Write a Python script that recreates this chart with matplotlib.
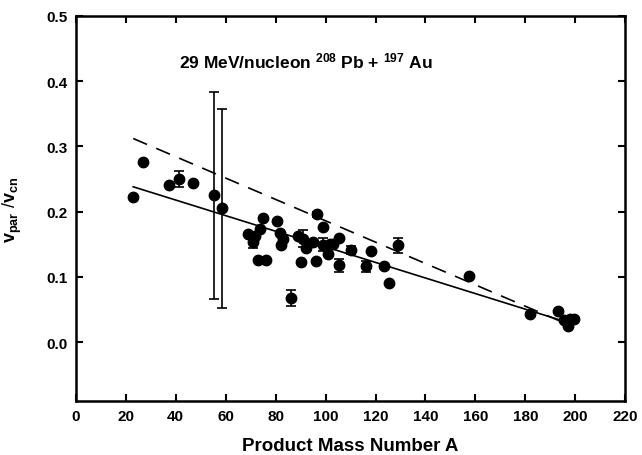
import matplotlib
matplotlib.use("Agg")
from matplotlib import pyplot as plt

plt.rcParams['font.family'] = ['Liberation Sans', 'DejaVu Sans']
plt.rcParams['font.weight'] = 'bold'
plt.rcParams['mathtext.fontset'] = 'custom'
plt.rcParams['mathtext.rm'] = 'Liberation Sans:bold'
plt.rcParams['mathtext.bf'] = 'Liberation Sans:bold'
plt.rcParams['mathtext.it'] = 'Liberation Sans:bold'

# product mass number and v_par/v_cn
mass = [23.0, 27.0, 37.3, 41.4, 47.0, 55.4, 58.5, 68.8, 71.1, 71.7, 73.7, 74.8,
        73.0, 76.0, 80.7, 81.8, 83.1, 82.0, 86.2, 88.8, 91.1, 90.0, 92.1, 95.1,
        96.7, 96.0, 98.9, 99.1, 101.1, 101.8, 103.1, 105.4, 105.4, 110.2, 118.2,
        116.2, 123.2, 125.3, 129.2, 157.5, 182.0, 193.0, 195.3, 197.1, 199.4, 197.8]
vratio = [0.222, 0.276, 0.240, 0.250, 0.244, 0.225, 0.205, 0.166, 0.153, 0.163,
          0.173, 0.190, 0.126, 0.126, 0.185, 0.167, 0.158, 0.148, 0.067, 0.162,
          0.158, 0.122, 0.144, 0.154, 0.196, 0.124, 0.177, 0.149, 0.135, 0.150,
          0.150, 0.159, 0.118, 0.141, 0.139, 0.116, 0.116, 0.090, 0.148, 0.101,
          0.043, 0.048, 0.034, 0.025, 0.036, 0.035]
verr = [0, 0, 0, 0.012, 0, 0.159, 0.153, 0, 0.009, 0, 0, 0,
        0, 0, 0, 0, 0, 0, 0.012, 0, 0.013, 0, 0, 0,
        0.004, 0, 0, 0.010, 0, 0, 0, 0, 0.010, 0.006, 0,
        0.008, 0, 0, 0.012, 0, 0, 0, 0, 0, 0, 0]

# fitted lines (end points)
fit_x = [23, 197]
fit_solid = [0.238, 0.030]
fit_dash = [0.312, 0.027]

fig = plt.figure(figsize=(6.42, 4.56), dpi=100)
ax = fig.add_axes([0.118, 0.119, 0.856, 0.844])

ax.plot(fit_x, fit_solid, color='black', lw=1.2)
ax.plot(fit_x, fit_dash, color='black', lw=1.2, dashes=(9, 6))
ax.errorbar(mass, vratio, yerr=verr, fmt='o', color='black', ms=7.5,
            elinewidth=1.2, capsize=3.5, capthick=1.2)

ax.set_xlim(0, 220)
ax.set_ylim(-0.09, 0.5)
ax.set_xticks(range(0, 221, 20))
ax.set_yticks([0.0, 0.1, 0.2, 0.3, 0.4, 0.5])
ax.set_yticklabels(['0.0', '0.1', '0.2', '0.3', '0.4', '0.5'])
ax.tick_params(direction='in', length=5, width=1.5, top=True, right=True,
               labelsize=11, pad=6)
for s in ax.spines.values():
    s.set_linewidth(1.8)

ax.set_xlabel('Product Mass Number A', fontsize=13.5, fontweight='bold', labelpad=10)
ax.set_ylabel(r'$\mathbf{v_{par}}$ /$\mathbf{v_{cn}}$', fontsize=13, labelpad=16)
ax.text(92, 0.432, r'29 MeV/nucleon $^{208}$ Pb + $^{197}$ Au', fontsize=12.5,
        fontweight='bold', ha='center', va='center')

fig.savefig('out.png', dpi=100)
